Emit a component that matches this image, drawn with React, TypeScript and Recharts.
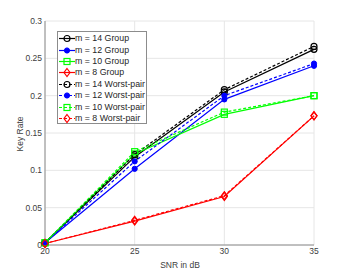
import React from "react";
import {
    LineChart,
    Line,
    XAxis,
    YAxis,
    CartesianGrid,
} from "recharts";

const snr = [20, 25, 30, 35];
const xTicks = [20, 25, 30, 35];
const yTicks = [0, 0.05, 0.1, 0.15, 0.2, 0.25, 0.3];

// group key rates
const group14 = [0.003, 0.118, 0.205, 0.262];
const group12 = [0.003, 0.102, 0.195, 0.240];
const group10 = [0.003, 0.122, 0.175, 0.200];
const group8 = [0.002, 0.032, 0.065, 0.173];

// worst-pair key rates
const worst14 = [0.003, 0.121, 0.208, 0.266];
const worst12 = [0.003, 0.112, 0.200, 0.243];
const worst10 = [0.003, 0.125, 0.178, 0.200];
const worst8 = [0.002, 0.033, 0.066, 0.173];

const data = snr.map((s, i) => ({
    snr: s,
    g14: group14[i],
    g12: group12[i],
    g10: group10[i],
    g8: group8[i],
    w14: worst14[i],
    w12: worst12[i],
    w10: worst10[i],
    w8: worst8[i],
}));

type Shape = "circle" | "dot" | "square" | "diamond";

interface SeriesDef {
    key: string;
    name: string;
    color: string;
    shape: Shape;
    dashed: boolean;
}

const series: SeriesDef[] = [
    { key: "g14", name: "m = 14 Group", color: "#000000", shape: "circle", dashed: false },
    { key: "g12", name: "m = 12 Group", color: "#0000FF", shape: "dot", dashed: false },
    { key: "g10", name: "m = 10 Group", color: "#00FF00", shape: "square", dashed: false },
    { key: "g8", name: "m = 8 Group", color: "#FF0000", shape: "diamond", dashed: false },
    { key: "w14", name: "m = 14 Worst-pair", color: "#000000", shape: "circle", dashed: true },
    { key: "w12", name: "m = 12 Worst-pair", color: "#0000FF", shape: "dot", dashed: true },
    { key: "w10", name: "m = 10 Worst-pair", color: "#00FF00", shape: "square", dashed: true },
    { key: "w8", name: "m = 8 Worst-pair", color: "#FF0000", shape: "diamond", dashed: true },
];

const Marker = ({ cx, cy, shape, color }: { cx: number; cy: number; shape: Shape; color: string }) => {
    if (shape === "circle") {
        return <circle cx={cx} cy={cy} r={3} fill="none" stroke={color} strokeWidth={1.2} />;
    }
    if (shape === "dot") {
        return <circle cx={cx} cy={cy} r={2.6} fill={color} stroke={color} strokeWidth={1} />;
    }
    if (shape === "square") {
        return <rect x={cx - 3} y={cy - 3} width={6} height={6} fill="none" stroke={color} strokeWidth={1.2} />;
    }
    return (
        <polygon
            points={`${cx},${cy - 4} ${cx + 3},${cy} ${cx},${cy + 4} ${cx - 3},${cy}`}
            fill="none"
            stroke={color}
            strokeWidth={1.2}
        />
    );
};

const makeDot = (s: SeriesDef) => (props: any) => {
    const { cx, cy, index } = props;
    return (
        <g key={`${s.key}-${index}`}>
            <Marker cx={cx} cy={cy} shape={s.shape} color={s.color} />
        </g>
    );
};

const axisColor = "#8c8c8c";
const textColor = "#404040";
const font = "'Liberation Sans', Arial, sans-serif";

const LegendBox = () => (
    <div
        style={{
            position: "absolute",
            left: 57,
            top: 31,
            width: 90,
            height: 93,
            border: `1px solid ${axisColor}`,
            background: "#fff",
            fontFamily: font,
            fontSize: 8.8,
            color: "#262626",
            paddingTop: 1,
            boxSizing: "border-box",
        }}
    >
        {series.map((s) => (
            <div key={s.key} style={{ display: "flex", alignItems: "center", height: 11.4 }}>
                <svg width={16} height={11} style={{ marginLeft: 1, flexShrink: 0 }}>
                    <line
                        x1={0}
                        y1={5.5}
                        x2={16}
                        y2={5.5}
                        stroke={s.color}
                        strokeWidth={1.2}
                        strokeDasharray={s.dashed ? "3 2" : undefined}
                    />
                    <Marker cx={8} cy={5.5} shape={s.shape} color={s.color} />
                </svg>
                <span style={{ whiteSpace: "nowrap", lineHeight: "11px" }}>{s.name}</span>
            </div>
        ))}
    </div>
);

export default function App() {
    return (
        <div style={{ position: "absolute", left: 0, top: 0, width: 347, height: 278, background: "#fff" }}>
            <LineChart
                width={347}
                height={278}
                data={data}
                margin={{ top: 21, right: 33, bottom: 13, left: 5 }}
            >
                <CartesianGrid stroke="#e6e6e6" strokeWidth={1} />
                <XAxis
                    dataKey="snr"
                    type="number"
                    domain={[20, 35]}
                    ticks={xTicks}
                    height={20}
                    tickLine={false}
                    tickSize={2}
                    tickMargin={1}
                    stroke={axisColor}
                    tick={{ fill: textColor, fontSize: 8.5, fontFamily: font }}
                />
                <XAxis
                    xAxisId="top"
                    orientation="top"
                    dataKey="snr"
                    type="number"
                    domain={[20, 35]}
                    ticks={xTicks}
                    height={0}
                    tick={false}
                    tickLine={false}
                    stroke={axisColor}
                />
                <YAxis
                    type="number"
                    domain={[0, 0.3]}
                    ticks={yTicks}
                    width={40}
                    tickLine={false}
                    tickSize={2}
                    tickMargin={1}
                    stroke={axisColor}
                    tick={{ fill: textColor, fontSize: 8.5, fontFamily: font }}
                />
                <YAxis
                    yAxisId="right"
                    orientation="right"
                    type="number"
                    domain={[0, 0.3]}
                    ticks={yTicks}
                    width={0}
                    tick={false}
                    tickLine={false}
                    stroke={axisColor}
                />
                {series.map((s) => (
                    <Line
                        key={s.key}
                        dataKey={s.key}
                        name={s.name}
                        type="linear"
                        stroke={s.color}
                        strokeWidth={1.2}
                        strokeDasharray={s.dashed ? "3 2" : undefined}
                        dot={makeDot(s)}
                        activeDot={false}
                        isAnimationActive={false}
                    />
                ))}
            </LineChart>
            <div
                style={{
                    position: "absolute",
                    left: 0,
                    width: 360,
                    top: 260,
                    textAlign: "center",
                    fontFamily: font,
                    fontSize: 8.5,
                    color: textColor,
                }}
            >
                SNR in dB
            </div>
            <div
                style={{
                    position: "absolute",
                    left: 20,
                    top: 134,
                    transform: "translate(-50%, -50%) rotate(-90deg)",
                    fontFamily: font,
                    fontSize: 8.5,
                    color: textColor,
                    whiteSpace: "nowrap",
                }}
            >
                Key Rate
            </div>
            <LegendBox />
        </div>
    );
}
